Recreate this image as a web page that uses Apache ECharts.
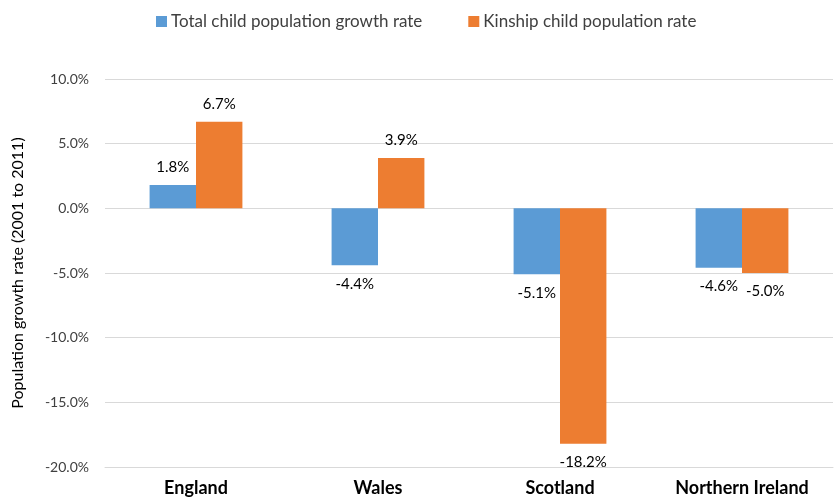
<!DOCTYPE html>
<html>
<head>
<meta charset="utf-8">
<script src="https://cdn.jsdelivr.net/npm/echarts@6/dist/echarts.min.js"></script>
<style>html,body{margin:0;padding:0;background:#fff}#c{width:838px;height:501px}</style>
</head>
<body>
<div id="c"></div>
<script>
const categories = ['England', 'Wales', 'Scotland', 'Northern Ireland'];
const totalGrowth = [1.8, -4.4, -5.1, -4.6];
const kinshipGrowth = [6.7, 3.9, -18.2, -5.0];
const yTicks = { min: -20, max: 10, interval: 5 };
const seriesNames = ['Total child population growth rate', 'Kinship child population rate'];

const FONT = 'Lato, "Open Sans", sans-serif';
function withLabels(arr) {
  return arr.map(v => ({ value: v, label: v < 0 ? { position: 'bottom', distance: 11 } : { position: 'top', distance: 10 } }));
}
const chart = echarts.init(document.getElementById('c'));
chart.setOption({
  animation: false,
  textStyle: { fontFamily: FONT },
  legend: {
    top: 8, left: 151,
    itemWidth: 11, itemHeight: 11, itemGap: 46,
    icon: 'rect',
    textStyle: { fontSize: 17, color: '#404040', fontFamily: FONT, padding: [0, 0, 0, -1] }
  },
  grid: { left: 105, right: 5, top: 79, bottom: 34 },
  xAxis: {
    type: 'category', data: categories,
    axisLine: { show: true, onZero: false, lineStyle: { color: '#d9d9d9' } },
    axisTick: { show: false },
    axisLabel: { interval: 0, fontSize: 18, fontWeight: 'bold', color: '#000', margin: 12, fontFamily: FONT }
  },
  yAxis: {
    type: 'value', min: yTicks.min, max: yTicks.max, interval: yTicks.interval,
    name: 'Population growth rate (2001 to 2011)',
    nameLocation: 'middle', nameGap: 79, nameRotate: 90,
    nameTextStyle: { fontSize: 16, color: '#000', fontFamily: FONT },
    axisLabel: { formatter: v => v.toFixed(1) + '%', fontSize: 14, color: '#404040', margin: 16, fontFamily: FONT },
    splitLine: { lineStyle: { color: '#d9d9d9' } },
    axisLine: { show: false }, axisTick: { show: false }
  },
  series: [
    {
      name: seriesNames[0], type: 'bar', data: withLabels(totalGrowth),
      itemStyle: { color: '#5B9BD5' },
      barGap: '0%', barCategoryGap: '49%',
      label: { show: true, fontSize: 15, color: '#000', formatter: p => p.value.toFixed(1) + '%', fontFamily: FONT }
    },
    {
      name: seriesNames[1], type: 'bar', data: withLabels(kinshipGrowth),
      itemStyle: { color: '#ED7D31' },
      barGap: '0%', barCategoryGap: '49%',
      label: { show: true, fontSize: 15, color: '#000', formatter: p => p.value.toFixed(1) + '%', fontFamily: FONT }
    }
  ]
});
</script>
</body>
</html>
